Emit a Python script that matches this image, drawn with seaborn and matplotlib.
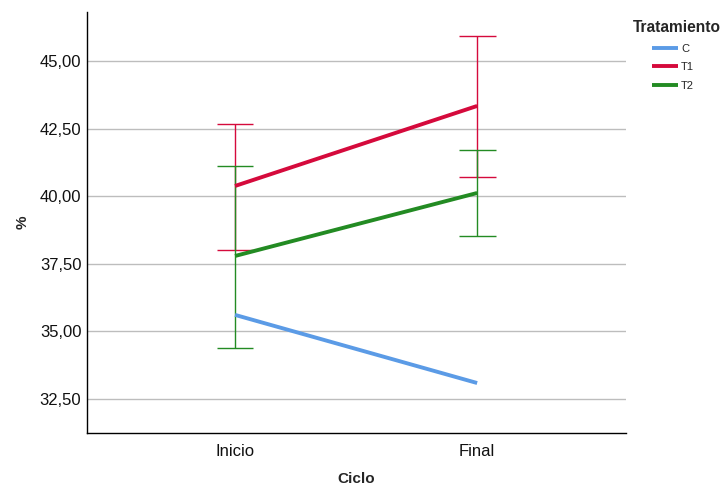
import matplotlib
matplotlib.use("Agg")
import matplotlib.pyplot as plt
import numpy as np
import pandas as pd
import seaborn as sns
from matplotlib.ticker import FuncFormatter

# data
ciclos = ["Inicio", "Final"]
tratamientos = ["C", "T1", "T2"]
media_c = [35.61, 33.09]
media_t1 = [40.38, 43.34]
media_t2 = [37.79, 40.12]
# error bar limits (low, high); C has none
lim_t1 = [(38.01, 42.67), (40.71, 45.92)]
lim_t2 = [(34.39, 41.12), (38.53, 41.71)]

colores = {"C": "#5B9BE6", "T1": "#D50A3C", "T2": "#238B23"}

df = pd.DataFrame({
    "Ciclo": ciclos * 3,
    "Tratamiento": ["C"] * 2 + ["T1"] * 2 + ["T2"] * 2,
    "valor": media_c + media_t1 + media_t2,
})

sns.set_style("white")
plt.rcParams["font.family"] = ["Liberation Sans", "DejaVu Sans"]

fig = plt.figure(figsize=(7.24, 4.86), dpi=100)
ax = fig.add_axes([0.120, 0.109, 0.745, 0.866])

# error bars first (thin lines with caps)
for trat, lims in [("T1", lim_t1), ("T2", lim_t2)]:
    for i, (lo, hi) in enumerate(lims):
        ax.vlines(i, lo, hi, color=colores[trat], lw=1.0, zorder=2)
        ax.hlines([lo, hi], i - 0.076, i + 0.076, color=colores[trat], lw=1.0, zorder=2)

sns.lineplot(data=df, x="Ciclo", y="valor", hue="Tratamiento",
             hue_order=tratamientos, palette=colores, linewidth=2.8,
             ax=ax, legend=True, zorder=3, solid_capstyle="butt")

ax.set_xlim(-0.612, 1.616)
ax.set_ylim(31.24, 46.81)
ax.set_yticks([32.5, 35.0, 37.5, 40.0, 42.5, 45.0])
ax.yaxis.set_major_formatter(FuncFormatter(lambda v, p: f"{v:.2f}".replace(".", ",")))
ax.grid(axis="y", color="#bdbdbd", lw=1.0)
ax.set_axisbelow(True)
for s in ["top", "right"]:
    ax.spines[s].set_visible(False)
for s in ["left", "bottom"]:
    ax.spines[s].set_color("black")
    ax.spines[s].set_linewidth(1.0)
ax.tick_params(axis="both", labelsize=12, colors="#111111", length=0, pad=4)
ax.tick_params(axis="x", length=5, color="black", width=0.8, pad=3)
ax.set_xlabel("Ciclo", fontsize=11, fontweight="bold", labelpad=9)
ax.set_ylabel("%", fontsize=11, fontweight="bold", labelpad=7)

handles, labels = ax.get_legend_handles_labels()
ax.legend(handles, labels, loc="upper left", bbox_to_anchor=(652 / 724, 1 - 44 / 486),
          bbox_transform=fig.transFigure, frameon=False, fontsize=8,
          handlelength=2.3, handletextpad=0.3, labelspacing=0.75, borderaxespad=0,
          borderpad=0)
fig.text(677 / 724, 1 - 27 / 486, "Tratamiento", ha="center", va="center",
         fontsize=11.2, fontweight="bold")

fig.savefig("out.png", dpi=100)
